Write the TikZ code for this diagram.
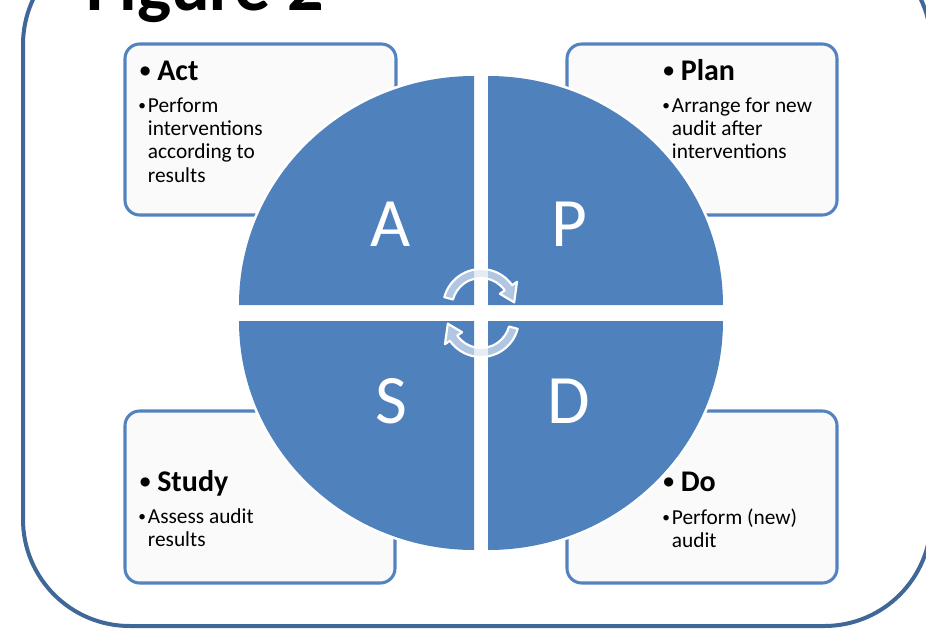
\documentclass[tikz,border=0pt]{standalone}
\usepackage{graphicx}
\usepackage{fontspec}
\setmainfont{Carlito}
\definecolor{quadblue}{HTML}{4F81BD}
\definecolor{boxline}{HTML}{5283BF}
\definecolor{boxfill}{HTML}{FAFAFA}
\definecolor{frameblue}{HTML}{3F6798}
\definecolor{arrowfill}{HTML}{DCE4F0}
\newcommand{\hdfont}{\fontsize{22.5}{26}\selectfont\bfseries}
\newcommand{\bdfont}{\fontsize{16}{17.6}\selectfont}
\newcommand{\dotmark}{\raisebox{0.09em}{\scalebox{0.72}{\textbullet}}}
\newcommand{\bodylines}[1]{\begin{tabular}[t]{@{}l@{\hspace{1.5pt}}l@{}}#1\end{tabular}}
\begin{document}
\begin{tikzpicture}[x=0.75pt,y=-0.75pt,
  frame/.style={draw=frameblue, line width=3pt, rounded corners=80pt},
  panel/.style={draw=boxline, line width=2.3pt, rounded corners=11pt, fill=boxfill},
  halo/.style={draw=white, fill=white, line width=4pt, line join=round},
  quad/.style={fill=quadblue},
  cyc/.style={fill=arrowfill, fill opacity=0.7, draw=white, line width=1.6pt, line join=round},
  head/.style={font=\hdfont, inner sep=0pt, anchor=base west},
  body/.style={font=\bdfont, inner sep=0pt, anchor=base west},
  letter/.style={font=\fontsize{52}{60}\selectfont, text=white, inner sep=0pt, anchor=base},
  title/.style={font=\fontsize{54}{60}\selectfont\bfseries, inner sep=0pt, anchor=base west}
]
\useasboundingbox (0,0) rectangle (926,629);
\clip (0,0) rectangle (926,629);

% outer frame and title
\draw[frame] (23,-62) rectangle (931,626);
\node[title] (title) at (86,10) {Figure 2};

% text panels
\path[panel] (125,44) rectangle (396,215);
\path[panel] (567,44) rectangle (837,215);
\path[panel] (125,411) rectangle (395,583);
\path[panel] (567,411) rectangle (837,583);

% white halo around the four quadrants
\path[halo] (474,305) -- (239,305) arc[start angle=180, end angle=270, x radius=235, y radius=229] -- cycle;
\path[halo] (488,305) -- (488,76) arc[start angle=270, end angle=360, x radius=235, y radius=229] -- cycle;
\path[halo] (488,321) -- (723,321) arc[start angle=0, end angle=90, x radius=235, y radius=229] -- cycle;
\path[halo] (474,321) -- (474,550) arc[start angle=90, end angle=180, x radius=235, y radius=229] -- cycle;

% quadrants
\path[quad] (474,305) -- (239,305) arc[start angle=180, end angle=270, x radius=235, y radius=229] -- cycle;
\path[quad] (488,305) -- (488,76) arc[start angle=270, end angle=360, x radius=235, y radius=229] -- cycle;
\path[quad] (488,321) -- (723,321) arc[start angle=0, end angle=90, x radius=235, y radius=229] -- cycle;
\path[quad] (474,321) -- (474,550) arc[start angle=90, end angle=180, x radius=235, y radius=229] -- cycle;

% quadrant letters
\node[letter] (la) at (391,246) {A};
\node[letter] (lp) at (569,246) {P};
\node[letter] (ls) at (391,423) {S};
\node[letter] (ld) at (569,423) {D};

% circular arrows in the centre
\begin{scope}[shift={(481,307)}]
  \path[cyc] (195:38) arc[start angle=195, end angle=325, radius=38]
    -- (325:44) -- (352:33.5) -- (325:23) -- (325:29)
    arc[start angle=325, end angle=195, radius=29] -- cycle;
\end{scope}
\begin{scope}[shift={(481,319)}]
  \path[cyc] (15:38) arc[start angle=15, end angle=145, radius=38]
    -- (145:44) -- (172:33.5) -- (145:23) -- (145:29)
    arc[start angle=145, end angle=15, radius=29] -- cycle;
\end{scope}

% Act
\node[head] (acth) at (139.5,80) {\dotmark\ Act};
\node[body] (actb) at (138,112) {\bodylines{\dotmark&Perform\\&interventions\\&according to\\&results}};
% Plan
\node[head] (planh) at (663,80) {\dotmark\ Plan};
\node[body] (planb) at (662,112) {\bodylines{\dotmark&Arrange for new\\&audit after\\&interventions}};
% Study
\node[head] (studyh) at (139.5,491) {\dotmark\ Study};
\node[body] (studyb) at (138,523) {\bodylines{\dotmark&Assess audit\\&results}};
% Do
\node[head] (doh) at (663,491) {\dotmark\ Do};
\node[body] (dob) at (662,524) {\bodylines{\dotmark&Perform (new)\\&audit}};
\end{tikzpicture}
\end{document}
